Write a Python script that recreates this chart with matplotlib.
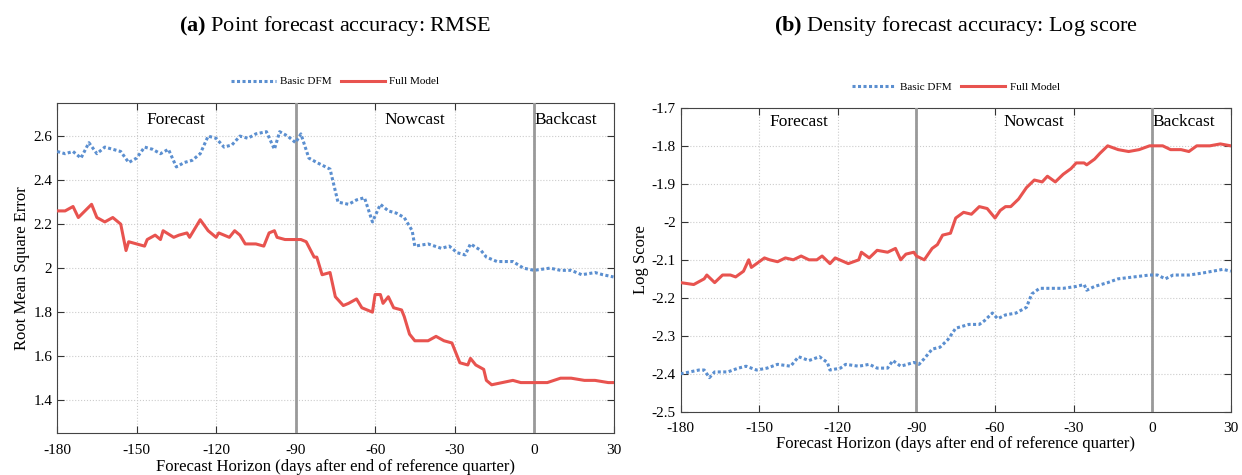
import matplotlib.pyplot as plt
import numpy as np

plt.rcParams['font.family'] = ['Liberation Serif', 'DejaVu Serif']
plt.rcParams['axes.unicode_minus'] = False
plt.rcParams['mathtext.fontset'] = 'custom'
plt.rcParams['mathtext.bf'] = 'Liberation Serif:bold'
plt.rcParams['mathtext.rm'] = 'Liberation Serif'

BLUE = '#5b8fd0'
RED = '#e8534f'

# (a) RMSE
rmse_dfm_x = [-180, -177, -174, -171, -168, -165, -162, -159, -156, -153, -150, -147, -144, -141, -138,
              -135, -132, -129, -126, -123, -120, -117, -114, -111, -108, -105, -101, -98, -96, -93, -90,
              -88, -85, -82, -77, -74, -70, -67, -64, -61, -58, -55, -52, -49, -46, -45, -40, -35, -32,
              -29, -26, -24, -20, -18, -14, -8, -4, 0, 6, 10, 14, 18, 23, 26, 30]
rmse_dfm = [2.53, 2.52, 2.53, 2.50, 2.57, 2.52, 2.55, 2.54, 2.53, 2.48, 2.50, 2.55, 2.54, 2.52, 2.54,
            2.46, 2.48, 2.49, 2.52, 2.60, 2.59, 2.55, 2.56, 2.60, 2.59, 2.61, 2.62, 2.54, 2.62, 2.60, 2.57,
            2.61, 2.50, 2.48, 2.45, 2.30, 2.29, 2.31, 2.32, 2.21, 2.29, 2.26, 2.25, 2.23, 2.17, 2.10, 2.11,
            2.09, 2.10, 2.07, 2.06, 2.11, 2.08, 2.05, 2.03, 2.03, 2.00, 1.99, 2.00, 1.99, 1.99, 1.97, 1.98,
            1.97, 1.96]
rmse_full_x = [-180, -177, -174, -172, -167, -165, -162, -159, -156, -154, -153, -147, -146, -143, -141,
               -140, -136, -134, -131, -130, -126, -123, -120, -119, -115, -113, -111, -109, -105, -102,
               -100, -98, -97, -94, -90, -88, -86, -83, -82, -80, -77, -75, -72, -70, -67, -65, -61, -60,
               -58, -57, -55, -53, -50, -49, -47, -45, -43, -40, -37, -34, -31, -28, -25, -24, -22, -19,
               -18, -16, -12, -8, -5, 0, 5, 10, 14, 19, 23, 28, 30]
rmse_full = [2.26, 2.26, 2.28, 2.23, 2.29, 2.23, 2.21, 2.23, 2.20, 2.08, 2.12, 2.10, 2.13, 2.15, 2.13,
             2.17, 2.14, 2.15, 2.16, 2.14, 2.22, 2.17, 2.14, 2.16, 2.14, 2.17, 2.15, 2.11, 2.11, 2.10,
             2.16, 2.17, 2.14, 2.13, 2.13, 2.13, 2.12, 2.05, 2.05, 1.97, 1.98, 1.87, 1.83, 1.84, 1.86,
             1.82, 1.80, 1.88, 1.88, 1.84, 1.87, 1.82, 1.81, 1.78, 1.70, 1.67, 1.67, 1.67, 1.69, 1.67,
             1.66, 1.57, 1.56, 1.59, 1.56, 1.54, 1.49, 1.47, 1.48, 1.49, 1.48, 1.48, 1.48, 1.50, 1.50,
             1.49, 1.49, 1.48, 1.48]

# (b) Log score
ls_dfm_x = [-180, -173, -171, -169, -167, -162, -158, -155, -151, -147, -143, -138, -135, -131, -127,
            -124, -123, -119, -117, -112, -108, -105, -101, -99, -96, -91, -89, -87, -84, -81, -78, -75,
            -70, -66, -64, -61, -59, -56, -52, -48, -46, -43, -38, -34, -29, -26, -25, -22, -17, -13, -7,
            -1, 2, 5, 8, 14, 19, 23, 27, 30]
ls_dfm = [-2.40, -2.39, -2.39, -2.41, -2.395, -2.395, -2.385, -2.38, -2.39, -2.385, -2.375, -2.38, -2.355,
          -2.365, -2.355, -2.37, -2.39, -2.385, -2.375, -2.38, -2.375, -2.385, -2.385, -2.365, -2.38, -2.37,
          -2.375, -2.36, -2.335, -2.33, -2.31, -2.28, -2.27, -2.27, -2.26, -2.24, -2.255, -2.245, -2.24,
          -2.225, -2.19, -2.175, -2.175, -2.175, -2.17, -2.165, -2.18, -2.17, -2.16, -2.15, -2.145, -2.14,
          -2.14, -2.15, -2.14, -2.14, -2.135, -2.13, -2.125, -2.13]
ls_full_x = [-180, -175, -171, -170, -167, -164, -161, -159, -156, -154, -153, -151, -148, -146, -143,
             -140, -137, -134, -131, -128, -126, -123, -121, -116, -112, -111, -108, -105, -101, -98, -96,
             -94, -91, -90, -87, -84, -82, -80, -77, -75, -72, -69, -66, -63, -60, -58, -56, -54, -51, -48,
             -45, -42, -40, -37, -34, -31, -29, -26, -25, -22, -20, -17, -13, -9, -5, -1, 4, 7, 11, 14, 17,
             22, 26, 30]
ls_full = [-2.16, -2.165, -2.15, -2.14, -2.16, -2.14, -2.14, -2.145, -2.13, -2.10, -2.12, -2.11, -2.095,
           -2.10, -2.105, -2.095, -2.10, -2.09, -2.10, -2.10, -2.09, -2.11, -2.095, -2.11, -2.10, -2.08,
           -2.095, -2.075, -2.08, -2.07, -2.10, -2.085, -2.08, -2.09, -2.10, -2.07, -2.06, -2.035, -2.03,
           -1.99, -1.975, -1.98, -1.96, -1.965, -1.99, -1.97, -1.96, -1.96, -1.94, -1.91, -1.89, -1.895,
           -1.88, -1.895, -1.875, -1.86, -1.845, -1.845, -1.85, -1.835, -1.82, -1.80, -1.81, -1.815, -1.81,
           -1.80, -1.80, -1.81, -1.81, -1.815, -1.80, -1.80, -1.795, -1.80]

xticks = [-180, -150, -120, -90, -60, -30, 0, 30]
regions = [('Forecast', -135), ('Nowcast', -45), ('Backcast', 12)]

fig = plt.figure(figsize=(12.42, 4.75), dpi=100)
ax1 = fig.add_axes([0.046, 0.088, 0.448, 0.695])
ax2 = fig.add_axes([0.548, 0.133, 0.443, 0.640])


def style(ax, ylim, yticks, ylabel, label_y, xpad):
    ax.set_xlim(-180, 30)
    ax.set_ylim(*ylim)
    ax.set_xticks(xticks)
    ax.set_yticks(yticks)
    ax.set_yticklabels(['%g' % t for t in yticks])
    ax.tick_params(direction='in', top=True, right=True, labelsize=11, length=5, color='#333333')
    ax.tick_params(axis='x', pad=xpad)
    ax.grid(True, linestyle=':', color='#cccccc', linewidth=0.8)
    for s in ax.spines.values():
        s.set_color('#444444')
    ax.axvline(-90, color='#999999', lw=2, zorder=3)
    ax.axvline(0, color='#999999', lw=2, zorder=3)
    ax.set_xlabel('Forecast Horizon (days after end of reference quarter)', fontsize=12, labelpad=1)
    ax.set_ylabel(ylabel, fontsize=12, labelpad=2)
    for name, x in regions:
        ax.text(x, label_y, name, ha='center', va='center', fontsize=12.5)
    ax.legend(loc='lower center', bbox_to_anchor=(0.5, 1.02), ncol=2, frameon=False, fontsize=8,
              handlelength=4, columnspacing=0.8, handletextpad=0.4)


ax1.plot(rmse_dfm_x, rmse_dfm, linestyle=(0, (1, 0.8)), color=BLUE, lw=2.2, label='Basic DFM', zorder=4)
ax1.plot(rmse_full_x, rmse_full, '-', color=RED, lw=2.2, label='Full Model', zorder=4)
style(ax1, (1.25, 2.75), [1.4, 1.6, 1.8, 2.0, 2.2, 2.4, 2.6], 'Root Mean Square Error', 2.675, 8)

ax2.plot(ls_dfm_x, ls_dfm, linestyle=(0, (1, 0.8)), color=BLUE, lw=2.2, label='Basic DFM', zorder=4)
ax2.plot(ls_full_x, ls_full, '-', color=RED, lw=2.2, label='Full Model', zorder=4)
style(ax2, (-2.5, -1.7), [-2.5, -2.4, -2.3, -2.2, -2.1, -2.0, -1.9, -1.8, -1.7], 'Log Score', -1.737, 7)

fig.text(0.27, 0.945, r'$\mathbf{(a)}$ Point forecast accuracy: RMSE', ha='center', va='center', fontsize=16)
fig.text(0.77, 0.945, r'$\mathbf{(b)}$ Density forecast accuracy: Log score', ha='center', va='center', fontsize=16)

fig.savefig('out.png', dpi=100)
